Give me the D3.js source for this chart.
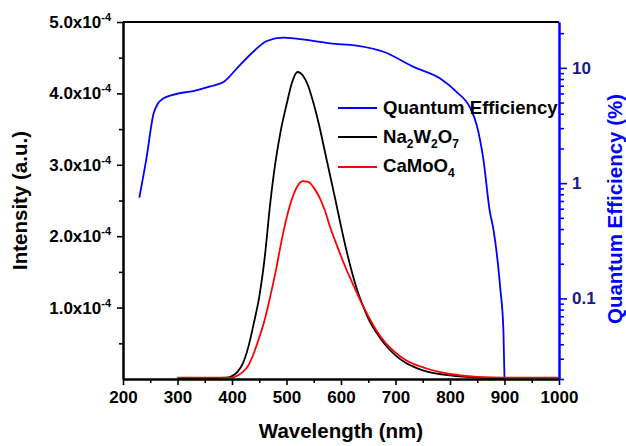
<!DOCTYPE html>
<html>
<head>
<meta charset="utf-8">
<script src="https://cdn.jsdelivr.net/npm/d3@7"></script>
<style>
  html, body { margin: 0; padding: 0; background: #fff; }
  svg { display: block; font-family: "Liberation Sans", Arial, sans-serif; font-weight: bold; }
</style>
</head>
<body>
<svg id="chart" width="626" height="446"></svg>
<script>
// ---- Data ----
const qeWavelength = [230, 243, 256, 264, 271, 295, 329, 360, 387, 409, 439, 464, 494, 537, 580, 629, 678, 733, 782, 812, 837, 849, 861, 873, 880, 892, 898, 900];
const qeValues     = [0.75, 1.64, 4.0, 4.9, 5.3, 5.9, 6.3, 6.9, 7.7, 9.9, 13.8, 17.1, 18.3, 17.5, 16.3, 15.6, 13.8, 10.2, 8.1, 6.2, 4.5, 3.2, 1.64, 0.57, 0.39, 0.126, 0.053, 0.02];

const naWavelength = [300, 350, 390, 400, 410, 420, 430, 440, 450, 460, 470, 480, 490, 500, 510, 520, 530, 540, 550, 560, 570, 580, 590, 600, 610, 620, 630, 640, 650, 665, 680, 700, 720, 740, 760, 780, 800, 850, 900];
const naIntensity  = [0.01e-4, 0.01e-4, 0.02e-4, 0.04e-4, 0.1e-4, 0.22e-4, 0.45e-4, 0.78e-4, 1.15e-4, 1.7e-4, 2.45e-4, 3.05e-4, 3.5e-4, 3.84e-4, 4.15e-4, 4.30e-4, 4.25e-4, 4.10e-4, 3.85e-4, 3.55e-4, 3.2e-4, 2.85e-4, 2.5e-4, 2.14e-4, 1.8e-4, 1.5e-4, 1.24e-4, 1.03e-4, 0.85e-4, 0.65e-4, 0.49e-4, 0.33e-4, 0.22e-4, 0.15e-4, 0.1e-4, 0.07e-4, 0.05e-4, 0.02e-4, 0.01e-4];

const caWavelength = [300, 350, 400, 410, 420, 430, 440, 450, 460, 470, 480, 490, 500, 510, 520, 530, 540, 550, 560, 570, 580, 590, 600, 610, 620, 630, 640, 650, 665, 680, 700, 720, 740, 760, 780, 800, 850, 900, 1000];
const caIntensity  = [0.02e-4, 0.02e-4, 0.02e-4, 0.05e-4, 0.1e-4, 0.19e-4, 0.36e-4, 0.58e-4, 0.83e-4, 1.15e-4, 1.5e-4, 1.9e-4, 2.25e-4, 2.52e-4, 2.7e-4, 2.77e-4, 2.76e-4, 2.68e-4, 2.55e-4, 2.37e-4, 2.13e-4, 1.92e-4, 1.72e-4, 1.53e-4, 1.36e-4, 1.19e-4, 1.03e-4, 0.88e-4, 0.68e-4, 0.52e-4, 0.37e-4, 0.26e-4, 0.19e-4, 0.14e-4, 0.1e-4, 0.07e-4, 0.03e-4, 0.02e-4, 0.02e-4];

const xTicks = [200, 300, 400, 500, 600, 700, 800, 900, 1000];
const xMinorTicks = [250, 350, 450, 550, 650, 750, 850, 950];
const yTicks = [1e-4, 2e-4, 3e-4, 4e-4, 5e-4];
const yTickMantissa = ["1.0", "2.0", "3.0", "4.0", "5.0"];
const yTickExponent = "-4";
const yMinorTicks = [0.5e-4, 1.5e-4, 2.5e-4, 3.5e-4, 4.5e-4];
const rTicks = [0.1, 1, 10];
const rTickLabels = ["0.1", "1", "10"];
const rMinorTicks = [0.02,0.03,0.04,0.05,0.06,0.07,0.08,0.09,0.2,0.3,0.4,0.5,0.6,0.7,0.8,0.9,2,3,4,5,6,7,8,9,20];

const seriesNames = ["Quantum Efficiency", "Na2W2O7", "CaMoO4"];
const seriesColors = ["#0000ff", "#000000", "#ff0000"];

// ---- Layout ----
const svg = d3.select("#chart");
const L = 123, R = 559, T = 22, B = 379;

const x = d3.scaleLinear().domain([200, 1000]).range([L, R]);
const y = d3.scaleLinear().domain([0, 5e-4]).range([B, T]);
const yR = d3.scaleLog().domain([0.02, 25]).range([B, T]);

// ---- Curves ----
const lineQE = d3.line().x((d, i) => x(qeWavelength[i])).y(d => yR(d)).curve(d3.curveMonotoneX);
const lineNa = d3.line().x((d, i) => x(naWavelength[i])).y(d => y(d)).curve(d3.curveMonotoneX);
const lineCa = d3.line().x((d, i) => x(caWavelength[i])).y(d => y(d)).curve(d3.curveMonotoneX);

svg.append("path").attr("d", lineQE(qeValues)).attr("fill", "none").attr("stroke", seriesColors[0]).attr("stroke-width", 1.8);
svg.append("path").attr("d", lineNa(naIntensity)).attr("fill", "none").attr("stroke", seriesColors[1]).attr("stroke-width", 1.8);
svg.append("path").attr("d", lineCa(caIntensity)).attr("fill", "none").attr("stroke", seriesColors[2]).attr("stroke-width", 1.8);

// ---- Axes ----
function styleAxis(g, color) {
  g.selectAll("path.domain").attr("stroke", color).attr("stroke-width", 2);
  g.selectAll(".tick line").attr("stroke", color).attr("stroke-width", 1.6);
  g.selectAll(".tick text").remove();
}

// top border
svg.append("line").attr("x1", L).attr("x2", R).attr("y1", T).attr("y2", T).attr("stroke", "#000").attr("stroke-width", 2);

// bottom axis
const gxMinor = svg.append("g").attr("transform", `translate(0,${B})`)
  .call(d3.axisBottom(x).tickValues(xMinorTicks).tickSize(4).tickSizeOuter(0).tickFormat(""));
styleAxis(gxMinor, "#000");
const gx = svg.append("g").attr("transform", `translate(0,${B})`)
  .call(d3.axisBottom(x).tickValues(xTicks).tickSize(6).tickSizeOuter(0).tickFormat(d3.format("d")));
gx.selectAll(".tick text").attr("font-size", 17).attr("font-weight", "bold").attr("fill", "#000")
  .attr("font-family", "Liberation Sans, Arial, sans-serif").attr("y", 12).attr("dy", "0.71em");
gx.selectAll("path.domain").attr("stroke", "#000").attr("stroke-width", 2);
gx.selectAll(".tick line").attr("stroke", "#000").attr("stroke-width", 1.6);

// left axis
const gyMinor = svg.append("g").attr("transform", `translate(${L},0)`)
  .call(d3.axisLeft(y).tickValues(yMinorTicks).tickSize(4).tickSizeOuter(0).tickFormat(""));
styleAxis(gyMinor, "#000");
const gy = svg.append("g").attr("transform", `translate(${L},0)`)
  .call(d3.axisLeft(y).tickValues(yTicks).tickSize(6).tickSizeOuter(0).tickFormat(""));
styleAxis(gy, "#000");
yTicks.forEach((v, i) => {
  const t = svg.append("text")
    .attr("x", 111).attr("y", y(v) + 6)
    .attr("text-anchor", "end").attr("font-size", 17).attr("fill", "#000");
  t.append("tspan").text(yTickMantissa[i] + "x10");
  t.append("tspan").attr("font-size", 11).attr("dy", -7).text(yTickExponent);
});

// right axis (log)
const blue = "#0000ff";
const grMinor = svg.append("g").attr("transform", `translate(${R},0)`)
  .call(d3.axisRight(yR).tickValues(rMinorTicks).tickSize(5).tickSizeOuter(0).tickFormat(""));
styleAxis(grMinor, blue);
const gr = svg.append("g").attr("transform", `translate(${R},0)`)
  .call(d3.axisRight(yR).tickValues(rTicks).tickSize(8).tickSizeOuter(0).tickFormat(""));
styleAxis(gr, blue);
rTicks.forEach((v, i) => {
  svg.append("text").attr("x", 572).attr("y", yR(v) + 6)
    .attr("font-size", 17).attr("fill", "#1a1a8a").text(rTickLabels[i]);
});

// ---- Axis titles ----
svg.append("text").attr("x", 341).attr("y", 438).attr("text-anchor", "middle")
  .attr("font-size", 20.5).attr("fill", "#000").text("Wavelength (nm)");
svg.append("text").attr("transform", `translate(27,${(T + B) / 2}) rotate(-90)`).attr("text-anchor", "middle")
  .attr("font-size", 20.5).attr("fill", "#000").text("Intensity (a.u.)");
svg.append("text").attr("transform", `translate(622,209) rotate(-90)`).attr("text-anchor", "middle")
  .attr("font-size", 20.5).attr("fill", blue).text("Quantum Efficiency (%)");

// ---- Legend ----
const legendRows = [108, 137, 167];
legendRows.forEach((ly, i) => {
  svg.append("line").attr("x1", 338).attr("x2", 377).attr("y1", ly).attr("y2", ly)
    .attr("stroke", seriesColors[i]).attr("stroke-width", 1.8);
});
svg.append("text").attr("x", 383).attr("y", 114).attr("font-size", 18.6).attr("fill", "#000").text(seriesNames[0]);
function chemLabel(yy, parts) {
  const t = svg.append("text").attr("x", 383).attr("y", yy).attr("font-size", 18.6).attr("fill", "#000");
  parts.forEach(p => {
    if (p.sub) t.append("tspan").attr("font-size", 12).attr("dy", 5).text(p.s);
    else t.append("tspan").attr("dy", p.after ? -5 : 0).text(p.s);
  });
}
chemLabel(143, [{s:"Na"},{s:"2",sub:true},{s:"W",after:true},{s:"2",sub:true},{s:"O",after:true},{s:"7",sub:true}]);
chemLabel(172, [{s:"CaMoO"},{s:"4",sub:true}]);
</script>
</body>
</html>
